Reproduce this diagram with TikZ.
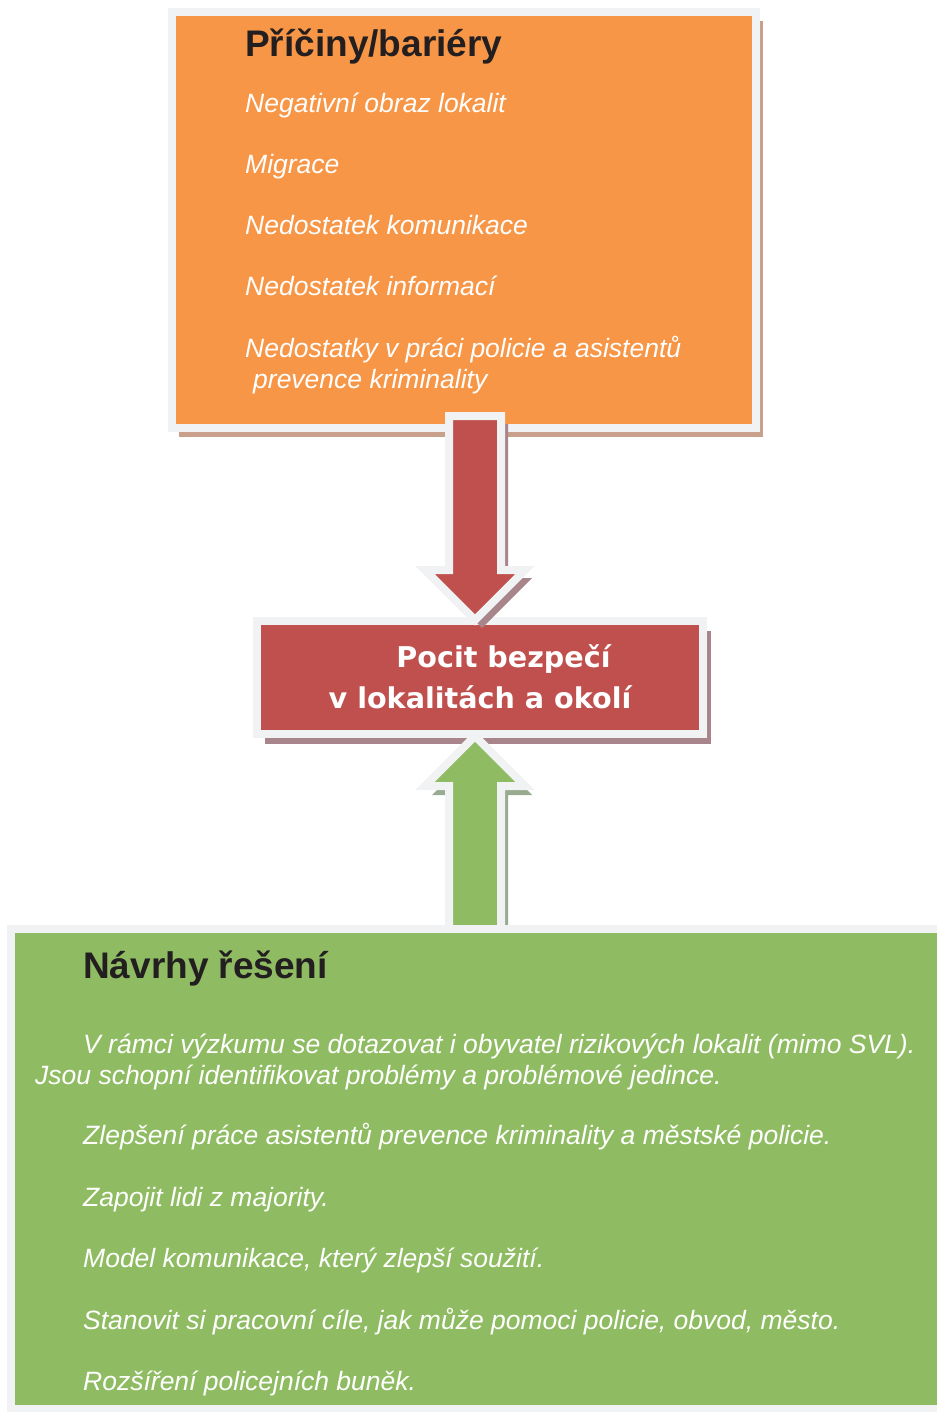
\documentclass[tikz,border=0pt]{standalone}
\usepackage{fontspec}
\setmainfont{Liberation Sans}
\newfontfamily\heavyfont{DejaVu Sans}
\usepackage{tikz}
\usetikzlibrary{calc}
\usetikzlibrary{shadows}
\definecolor{boxorange}{HTML}{F79646}
\definecolor{boxred}{HTML}{C0504D}
\definecolor{boxgreen}{HTML}{8FBC62}
\definecolor{framegray}{HTML}{F1F2F4}
\definecolor{shadeorange}{HTML}{C8A08C}
\definecolor{shadered}{HTML}{A8858A}
\definecolor{shadegreen}{HTML}{98AA8F}
\definecolor{titlegray}{HTML}{231F20}
\tikzset{panel/.style = {rectangle, draw=framegray, line width=8pt,
                         inner sep=0pt, outer sep=0pt},
         blockarrow/.style = {draw=framegray, line width=8pt},
         headtext/.style = {anchor=base west, inner sep=0pt, text=titlegray,
                            font=\fontsize{37}{44}\selectfont\bfseries},
         itemtext/.style = {anchor=base west, inner sep=0pt, text=white,
                            font=\fontsize{26.5}{32}\selectfont\itshape},
         safetytext/.style = {anchor=base, inner sep=0pt, text=white,
                              font=\heavyfont\fontsize{28.6}{41}\selectfont\bfseries}}

\begin{document}
\begin{tikzpicture}[x=1pt, y=-1pt]
  \useasboundingbox (0, 0) rectangle (936, 1412);
  \fill [white] (0, 0) rectangle (936, 1412);

  \node [panel, fill=boxorange, minimum width=584pt, minimum height=416pt,
         drop shadow={shadow xshift=7pt, shadow yshift=-9pt, fill=shadeorange, opacity=1}]
        (causes) at (464, 220) {};
  \node [panel, fill=boxred, minimum width=446pt, minimum height=113pt,
         drop shadow={shadow xshift=8pt, shadow yshift=-10pt, fill=shadered, opacity=1}]
        (safety) at (480, 677.5) {};

  \coordinate (redtop) at ($(causes.south) + (11, -12)$);
  \coordinate (redtip) at ($(safety.north) + (-5, -1)$);
  \filldraw [blockarrow, fill=boxred,
             drop shadow={shadow xshift=7pt, shadow yshift=-8pt, fill=shadered, opacity=1}]
    ($(redtop) + (-26, 0)$) -- ($(redtop) + (26, 0)$) -- ($(redtip) + (26, -50)$)
    -- ($(redtip) + (50, -50)$) -- (redtip) -- ($(redtip) + (-50, -50)$)
    -- ($(redtip) + (-26, -50)$) -- cycle;

  \coordinate (greentip) at ($(safety.south) + (-5, 2)$);
  \coordinate (greenfoot) at ($(greentip) + (0, 197)$);
  \filldraw [blockarrow, fill=boxgreen,
             drop shadow={shadow xshift=7pt, shadow yshift=-9pt, fill=shadegreen, opacity=1}]
    ($(greenfoot) + (-26, 0)$) -- ($(greentip) + (-26, 50)$) -- ($(greentip) + (-50, 50)$)
    -- (greentip) -- ($(greentip) + (50, 50)$) -- ($(greentip) + (26, 50)$)
    -- ($(greenfoot) + (26, 0)$) -- cycle;
  \node [panel, fill=boxgreen, minimum width=949pt, minimum height=480pt]
        (solutions) at (485.5, 1169) {};

  \node [headtext] (causestitle) at (245, 57) {Příčiny/bariéry};
  \node [itemtext] (cause1) at (245, 113) {Negativní obraz lokalit};
  \node [itemtext] (cause2) at (245, 174) {Migrace};
  \node [itemtext] (cause3) at (245, 235) {Nedostatek komunikace};
  \node [itemtext] (cause4) at (245, 296) {Nedostatek informací};
  \node [itemtext] (cause5) at (245, 357) {Nedostatky v práci policie a asistentů};
  \node [itemtext] (cause5b) at (253, 388) {prevence kriminality};

  \node [safetytext] (safety1) at (503.5, 667) {Pocit bezpečí};
  \node [safetytext] (safety2) at (480, 708) {v lokalitách a okolí};

  \node [headtext] (solutionstitle) at (83, 978) {Návrhy řešení};
  \node [itemtext] (fix1) at (83, 1053) {V rámci výzkumu se dotazovat i obyvatel rizikových lokalit (mimo SVL).};
  \node [itemtext] (fix1b) at (35, 1084) {Jsou schopní identifikovat problémy a problémové jedince.};
  \node [itemtext] (fix2) at (83, 1144) {Zlepšení práce asistentů prevence kriminality a městské policie.};
  \node [itemtext] (fix3) at (83, 1206) {Zapojit lidi z majority.};
  \node [itemtext] (fix4) at (83, 1267) {Model komunikace, který zlepší soužití.};
  \node [itemtext] (fix5) at (83, 1329) {Stanovit si pracovní cíle, jak může pomoci policie, obvod, město.};
  \node [itemtext] (fix6) at (83, 1390) {Rozšíření policejních buněk.};
\end{tikzpicture}
\end{document}
